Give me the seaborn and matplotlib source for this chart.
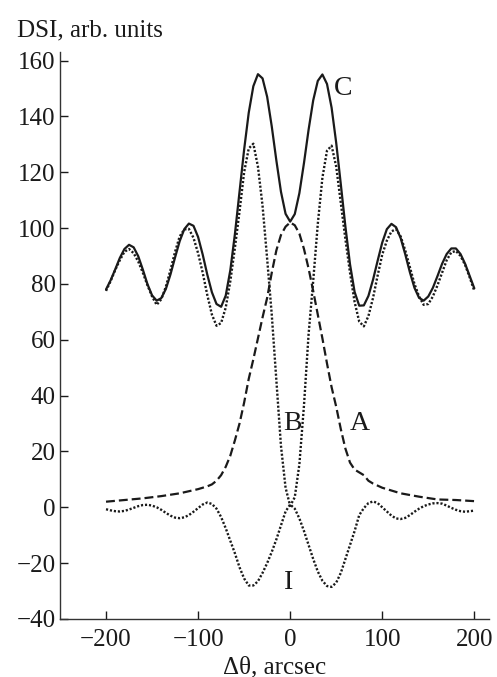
import matplotlib
matplotlib.use("Agg")
import matplotlib.pyplot as plt
import seaborn as sns

# angle grid (arcsec) for the C, B and I curves
theta = list(range(-200, 205, 5))

# C: solid curve
curve_c = [78.0, 81.3, 85.2, 89.3, 92.5, 94.0, 93.1, 89.9, 85.1, 79.9,
           75.9, 74.0, 74.9, 78.2, 83.4, 89.5, 95.3, 99.6, 101.6, 100.8,
           96.8, 90.5, 83.3, 77.0, 72.8, 71.8, 75.8, 84.9, 97.9, 113.0,
           128.1, 141.3, 150.8, 155.1, 153.6, 147.0, 136.4, 124.2, 113.0, 105.1,
           102.3,
           105.0, 112.5, 123.3, 135.2, 145.7, 152.7, 155.0, 151.6, 143.1, 130.5,
           115.7, 100.5, 87.0, 77.1, 72.2, 72.3, 75.7, 81.5, 88.3, 94.8,
           99.6, 101.5, 100.3, 96.4, 90.6, 84.2, 78.6, 75.0, 74.0, 75.5,
           78.6, 82.8, 87.2, 90.7, 92.7, 92.7, 90.7, 87.2, 82.8, 78.4]

# B: upper dotted curve
curve_b = [77.5, 81.0, 85.0, 88.5, 91.5, 92.5, 91.0, 88.0, 84.0, 79.5,
           75.5, 72.5, 74.5, 79.0, 85.0, 91.5, 97.0, 99.5, 99.7, 96.5,
           91.0, 84.0, 76.0, 69.0, 65.0, 66.0, 71.5, 81.0, 93.0, 106.0,
           120.0, 128.5, 130.2, 122.0, 108.0, 89.0, 69.0, 45.5, 22.0, 7.0,
           0.5,
           3.6, 15.4, 36.5, 62.0, 81.0, 101.5, 118.0, 127.7, 129.5, 122.0,
           109.0, 96.0, 84.0, 73.5, 66.5, 64.8, 68.5, 75.0, 83.0, 90.5,
           95.5, 98.8, 99.6, 97.0, 92.0, 86.0, 80.0, 75.5, 72.5, 72.8,
           75.5, 79.5, 84.0, 88.5, 91.3, 91.8, 90.0, 86.8, 82.3, 77.5]

# I: lower dotted curve
curve_i = [-0.7, -1.1, -1.4, -1.5, -1.3, -0.8, -0.2, 0.4, 0.8, 0.9,
           0.6, 0.0, -0.9, -2.0, -3.0, -3.7, -3.9, -3.6, -2.8, -1.6,
           -0.3, 1.0, 1.7, 1.2, -0.5, -3.5, -7.5, -12.0, -16.5, -21.5,
           -25.5, -28.0, -28.0, -26.5, -23.5, -20.0, -16.0, -11.5, -6.5, -1.5,
           1.0,
           -0.5, -4.0, -8.5, -13.5, -18.5, -23.0, -26.3, -28.2, -28.5, -27.0,
           -23.5, -18.5, -13.5, -8.5, -2.8, -0.3, 1.5, 2.1, 1.5, 0.0,
           -1.5, -3.0, -4.0, -4.2, -3.8, -2.8, -1.6, -0.5, 0.4, 1.0,
           1.4, 1.5, 1.3, 0.6, -0.2, -0.9, -1.4, -1.6, -1.4, -1.2]

# A: dashed curve
theta_a = [-200, -180, -160, -140, -120, -100, -90, -85, -80, -75, -70, -65,
           -60, -55, -50, -45, -40, -35, -30, -25, -20, -15, -10, -5, 0,
           5, 10, 15, 20, 25, 30, 35, 40, 45, 50, 55, 60, 65, 70, 75, 80,
           85, 90, 100, 120, 140, 160, 180, 200]
curve_a = [2.0, 2.6, 3.2, 4.0, 5.0, 6.5, 7.5, 8.2, 9.5, 11.5, 14.5, 18.5,
           24.0, 30.0, 37.5, 46.0, 53.0, 60.5, 68.0, 75.0, 84.0, 92.0, 97.5, 100.5, 102.0,
           101.0, 98.0, 92.5, 85.5, 77.5, 69.0, 60.5, 51.5, 43.0, 36.0, 28.0, 21.0,
           16.0, 13.5, 12.5, 11.5, 9.5, 8.5, 7.0, 5.0, 3.8, 2.8, 2.6, 2.2]

labels = {"C": (58, 150), "B": (2, 30), "A": (76, 30), "I": (-2, -27)}

sns.set_style("ticks")
plt.rcParams["font.family"] = ["Liberation Serif", "DejaVu Serif"]

fig = plt.figure(figsize=(4.97, 6.77), dpi=100)
ax = fig.add_axes([0.1207, 0.0857, 0.8633, 0.8373])

ink = "#1a1a1a"
sns.lineplot(x=theta, y=curve_c, ax=ax, color=ink, linewidth=1.6,
             solid_joinstyle="round")
sns.lineplot(x=theta, y=curve_b, ax=ax, color=ink, linewidth=1.7,
             linestyle=(0, (0.9, 0.8)))
sns.lineplot(x=theta, y=curve_i, ax=ax, color=ink, linewidth=1.7,
             linestyle=(0, (0.9, 0.8)))
sns.lineplot(x=theta_a, y=curve_a, ax=ax, color=ink, linewidth=1.6,
             linestyle=(0, (4, 1.8)))

for name, (lx, ly) in labels.items():
    ax.text(lx, ly, name, fontsize=20, ha="center", va="center", color=ink)

ax.set_xlim(-250, 216)
ax.set_ylim(-40, 163)
ax.set_xticks([-200, -100, 0, 100, 200])
ax.set_yticks(range(-40, 161, 20))
ax.tick_params(direction="in", length=5.5, width=1, labelsize=18,
               colors=ink)
ax.tick_params(axis="x", pad=7)
ax.tick_params(axis="y", pad=3)
sns.despine(ax=ax)
for s in ["left", "bottom"]:
    ax.spines[s].set_linewidth(1.0)
    ax.spines[s].set_color("#333333")

ax.set_xlabel("Δθ, arcsec", fontsize=18, color=ink, labelpad=4)
fig.text(0.034, 1 - 30 / 677, "DSI, arb. units", fontsize=18,
         ha="left", va="center", color=ink)

fig.savefig("out.png", dpi=100)
